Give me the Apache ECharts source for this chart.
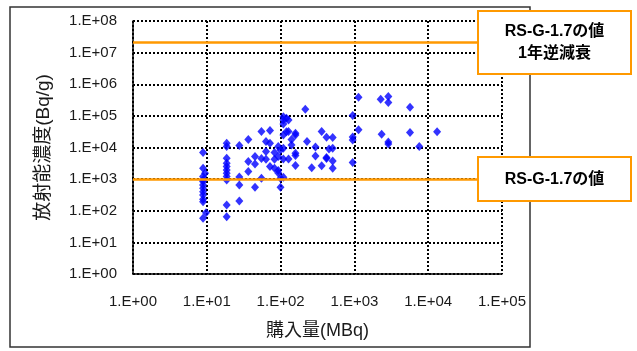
<!DOCTYPE html>
<html><head><meta charset="utf-8">
<script src="https://cdn.jsdelivr.net/npm/echarts@6/dist/echarts.min.js"></script>
<style>html,body{margin:0;padding:0;background:#fff}#c{width:637px;height:351px}</style>
</head><body><div id="c"></div>
<script>
const xTickLabels = ['1.E+00','1.E+01','1.E+02','1.E+03','1.E+04','1.E+05'];
const yTickLabels = ['1.E+00','1.E+01','1.E+02','1.E+03','1.E+04','1.E+05','1.E+06','1.E+07','1.E+08'];
const purchaseMBq = [
  8.9,8.9,9.46,8.9,8.9,8.9,8.9,8.9,8.9,8.9,8.9,8.9,9.75,8.9,
  18.6,18.6,18.6,18.6,18.6,18.6,18.6,18.6,18.6,18.6,18.6,
  27.6,27.6,27.6,27.6,
  36.5,36.5,36.5,
  45,45,45,
  55,55,55,
  63.4,63.4,63.4,
  71.8,71.8,71.8,
  82.7,82.7,82.7,
  93,93,93,93,
  99.7,99.7,99.7,
  109,109,109,109,109,109,109,
  120,120,
  128,128,128,
  140.6,140.6,
  159,159,159,159,159,
  216,228,264,297,297,360,360,
  419,419,419,453,
  508,508,508,508,
  948,948,948,948,
  1137,1137,2270,2340,
  2880,2880,2880,2880,
  5670,5670,7570,13200
];
const concentration = [
  7000,2210,1540,1200,944,834,655,515,402,316,231,194,87,58,
  13700,10700,4580,3190,2490,1950,1540,1200,944,153,65,
  11650,1170,655,204,
  18000,3580,1730,
  5150,3030,554,
  31900,4520,1070,
  15400,7420,4260,
  34300,13700,2520,
  6900,4260,2210,
  10700,5150,1860,1570,
  8400,1070,554,
  93000,74700,55800,25000,9500,4360,1150,
  84500,31200,
  74700,31900,4360,
  18000,12100,
  28400,25000,6600,5540,2720,
  163000,15400,2310,10400,5420,31900,2670,
  21200,4860,4520,9030,
  20600,9500,3770,2210,
  102000,21600,17400,3330,
  391000,36100,333000,26400,
  408000,267000,15000,13000,
  186000,29600,10700,31200
];
const refLevels = [2.2e7, 1000];
const refTexts = ['RS-G-1.7の値\n1年逆減衰', 'RS-G-1.7の値'];

const points = purchaseMBq.map((x, i) => [x, concentration[i]]);
const FONT = '"Liberation Sans", Arial, "Noto Sans CJK JP", sans-serif';
const dotted = {type: [2, 2], color: '#000', width: 2};

const chart = echarts.init(document.getElementById('c'), null, {renderer: 'canvas'});
chart.setOption({
  animation: false,
  backgroundColor: '#fff',
  grid: {left: 133, top: 21, width: 369, height: 253},
  xAxis: {
    type: 'log', logBase: 10, min: 1, max: 1e5, interval: 1, splitNumber: 5,
    axisLine: {show: true, onZero: false, lineStyle: {color: '#000', width: 1.5}},
    axisTick: {show: false},
    splitLine: {show: true, lineStyle: dotted},
    axisLabel: {margin: 20, color: '#1a1a1a', fontSize: 15, fontFamily: FONT,
      formatter: v => xTickLabels[Math.round(Math.log10(v))]},
    name: '購入量(MBq)', nameLocation: 'middle', nameGap: 48,
    nameTextStyle: {fontSize: 18, color: '#1a1a1a', fontFamily: FONT}
  },
  yAxis: {
    type: 'log', logBase: 10, min: 1, max: 1e8, interval: 1, splitNumber: 8,
    axisLine: {show: true, onZero: false, lineStyle: {color: '#000', width: 1.5}},
    axisTick: {show: false},
    splitLine: {show: true, lineStyle: dotted},
    axisLabel: {margin: 16, color: '#1a1a1a', fontSize: 15, fontFamily: FONT,
      formatter: v => yTickLabels[Math.round(Math.log10(v))]},
    name: '放射能濃度(Bq/g)', nameLocation: 'middle', nameRotate: 90, nameGap: 80,
    nameTextStyle: {fontSize: 19, color: '#1a1a1a', fontFamily: FONT}
  },
  series: [{
    type: 'scatter',
    data: points,
    symbol: 'diamond',
    symbolSize: [8, 9],
    itemStyle: {color: '#0000ff'},
    markLine: {
      silent: true, symbol: 'none', animation: false,
      label: {show: false},
      lineStyle: {color: '#ff9900', width: 2.5, type: 'solid'},
      data: refLevels.map(v => ({yAxis: v}))
    }
  }],
  graphic: [
    {type: 'rect', shape: {x: 10, y: 7, width: 520, height: 340}, style: {fill: 'none', stroke: '#333', lineWidth: 1.5}, z: -1, silent: true},
    {type: 'rect', shape: {x: 478, y: 11, width: 153, height: 63}, style: {fill: '#fff', stroke: '#ff9900', lineWidth: 2}, z: 10},
    {type: 'text', x: 554.5, y: 42.5, style: {text: refTexts[0], fill: '#000', font: 'bold 16px ' + FONT, textAlign: 'center', textVerticalAlign: 'middle', lineHeight: 22}, z: 11},
    {type: 'rect', shape: {x: 478, y: 157, width: 153, height: 44}, style: {fill: '#fff', stroke: '#ff9900', lineWidth: 2}, z: 10},
    {type: 'text', x: 554.5, y: 180, style: {text: refTexts[1], fill: '#000', font: 'bold 16px ' + FONT, textAlign: 'center', textVerticalAlign: 'middle'}, z: 11}
  ]
});
</script></body></html>
